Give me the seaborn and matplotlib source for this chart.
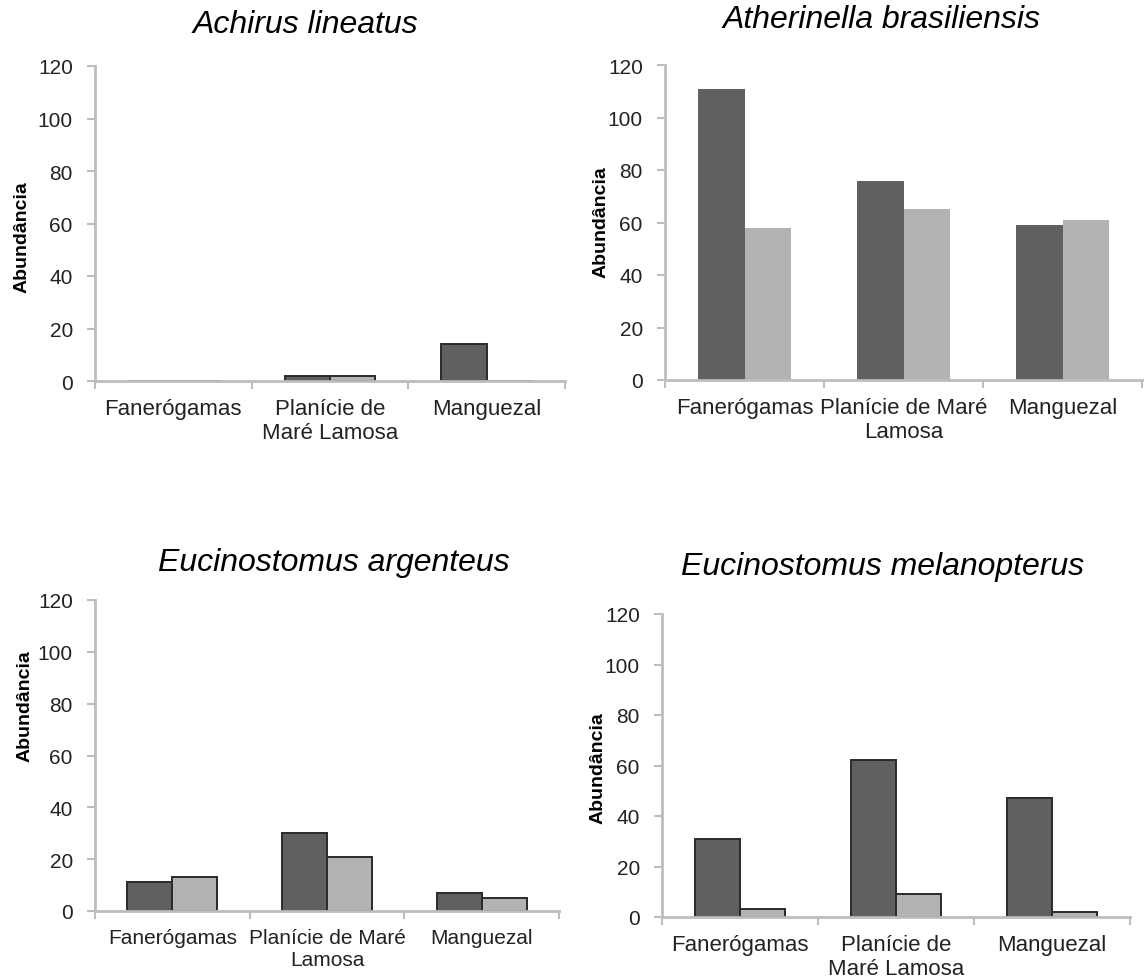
import pandas as pd
import seaborn as sns
import matplotlib.pyplot as plt
from matplotlib.ticker import FixedLocator

# ---- Data ----
habitats = ["Fanerógamas", "Planície de Maré Lamosa", "Manguezal"]
series = ["Série 1", "Série 2"]

achirus_s1 = [0, 2, 14]
achirus_s2 = [0, 2, 0]
atherinella_s1 = [111, 76, 59]
atherinella_s2 = [58, 65, 61]
argenteus_s1 = [11, 30, 7]
argenteus_s2 = [13, 21, 5]
melanopterus_s1 = [31, 62, 47]
melanopterus_s2 = [3, 9, 2]

species = ["Achirus lineatus", "Atherinella brasiliensis",
           "Eucinostomus argenteus", "Eucinostomus melanopterus"]
values = [(achirus_s1, achirus_s2), (atherinella_s1, atherinella_s2),
          (argenteus_s1, argenteus_s2), (melanopterus_s1, melanopterus_s2)]

# tick labels wrap differently in each panel
xlabels = [
    ["Fanerógamas", "Planície de\nMaré Lamosa", "Manguezal"],
    ["Fanerógamas", "Planície de Maré\nLamosa", "Manguezal"],
    ["Fanerógamas", "Planície de Maré\nLamosa", "Manguezal"],
    ["Fanerógamas", "Planície de\nMaré Lamosa", "Manguezal"],
]
xlabel_sizes = [16, 16, 15, 16]

# ---- Layout (pixels) ----
W, H = 1146, 978
axes_px = [  # left, right, top, bottom
    (95, 565, 67, 382),
    (665, 1142, 66, 381),
    (95, 559, 601, 912),
    (662, 1130, 615, 918),
]
title_px = [(305, 25), (882, 20), (334, 563), (883, 567)]
ylabel_px = [(22, 237), (601, 222), (25, 706), (598, 768)]

sns.set_style("white")
plt.rcParams["font.family"] = ["Liberation Sans", "DejaVu Sans"]

palette = {"Série 1": "#606060", "Série 2": "#b3b3b3"}
axis_grey = "#bdbdbd"

fig = plt.figure(figsize=(W / 100, H / 100), dpi=100)

for i, name in enumerate(species):
    l, r, t, b = axes_px[i]
    ax = fig.add_axes([l / W, 1 - b / H, (r - l) / W, (b - t) / H])

    s1, s2 = values[i]
    df = pd.DataFrame({
        "Habitat": habitats * 2,
        "Série": [series[0]] * 3 + [series[1]] * 3,
        "Abundância": list(s1) + list(s2),
    })

    edge = "none" if i == 1 else "#2a2a2a"
    sns.barplot(data=df, x="Habitat", y="Abundância", hue="Série",
                order=habitats, hue_order=series, palette=palette,
                width=0.58, edgecolor=edge, linewidth=1.4,
                legend=False, ax=ax)

    ax.set_xlim(-0.5, 2.5)
    ax.set_ylim(0, 120)
    ax.set_yticks([0, 20, 40, 60, 80, 100, 120])
    ax.set_xticks([0, 1, 2])
    ax.set_xticklabels(xlabels[i], fontsize=xlabel_sizes[i], color="#222222",
                       linespacing=1.2)
    ax.xaxis.set_minor_locator(FixedLocator([-0.5, 0.5, 1.5, 2.5]))
    ax.tick_params(axis="x", which="major", length=0, pad=12)
    ax.tick_params(axis="x", which="minor", length=6, width=1.5,
                   color=axis_grey, direction="out", bottom=True)
    ax.tick_params(axis="y", length=6, width=1.5, color=axis_grey,
                   direction="out", left=True, labelsize=15, pad=10,
                   labelcolor="#222222")
    ax.set_xlabel("")
    ax.set_ylabel("")

    sns.despine(ax=ax)
    for side in ["left", "bottom"]:
        ax.spines[side].set_color(axis_grey)
        ax.spines[side].set_linewidth(2)

    tx, ty = title_px[i]
    fig.text(tx / W, 1 - ty / H, name, fontsize=23, style="italic",
             ha="center", va="center", color="black")
    lx, ly = ylabel_px[i]
    fig.text(lx / W, 1 - ly / H, "Abundância", fontsize=14, fontweight="bold",
             rotation=90, ha="center", va="center", color="black")

fig.savefig("out.png", dpi=100)
